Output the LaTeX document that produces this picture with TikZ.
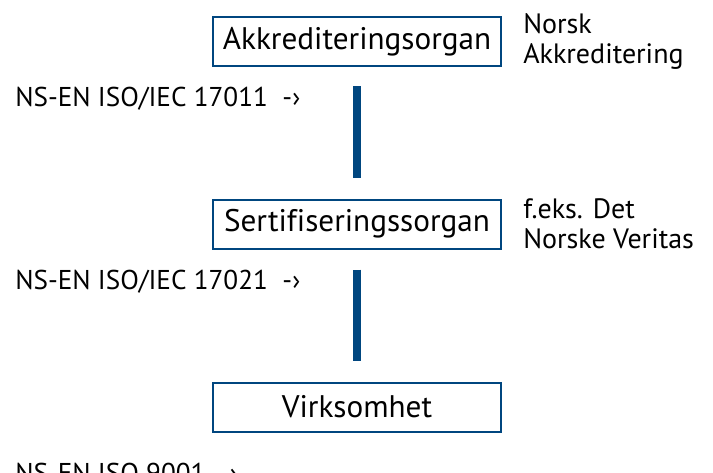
\documentclass[tikz,border=0pt]{standalone}
\usepackage{fontspec}
\setmainfont{PT Sans}[Ligatures=NoCommon]
\usetikzlibrary{positioning}
\definecolor{nsblue}{HTML}{00467F}

\begin{document}
\begin{tikzpicture}[line cap=butt,x=0.75pt,y=-0.75pt,
  box/.style={draw=nsblue,line width=1.5pt,minimum width=216pt,minimum height=36.75pt,inner sep=0pt,
    font=\fontsize{23.4}{26}\selectfont},
  note/.style={anchor=west,align=left,inner sep=0pt,font=\fontsize{21}{22.5}\selectfont},
  norm/.style={anchor=base west,inner sep=0pt,font=\fontsize{20.4}{24}\selectfont},
  bar/.style={draw=nsblue,line width=6pt}]
\useasboundingbox (0,0) rectangle (713,472);

% organs
\node[box] (akk) at (357,41.5) {Akkrediteringsorgan};
\node[box] (sert) at (357,224) {Sertifiseringssorgan};
\node[box] (virk) at (357,407) {Virksomhet};

% examples
\node[note,right=15.75pt of akk] (na) {Norsk\\Akkreditering};
\node[note,right=15.75pt of sert] (dnv) {f.eks. Det\\Norske Veritas};

% standards
\node[norm] (iso17011) at (15,106) {NS-EN ISO/IEC 17011\ \ -›};
\node[norm] (iso17021) at (15,289) {NS-EN ISO/IEC 17021\ \ -›};
\node[norm] (iso9001) at (15,482) {NS-EN ISO 9001\ \ -›};

% links
\draw[bar,shorten <=14.25pt,shorten >=15.75pt] (akk.south) -- (sert.north);
\draw[bar,shorten <=15pt,shorten >=15.75pt] (sert.south) -- (virk.north);
\end{tikzpicture}
\end{document}
